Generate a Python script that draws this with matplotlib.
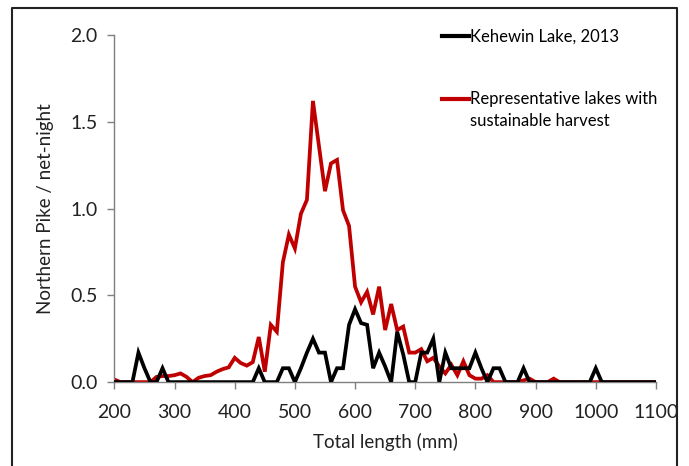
import matplotlib
matplotlib.use("Agg")
import matplotlib.pyplot as plt
from matplotlib.lines import Line2D
from matplotlib.legend_handler import HandlerLine2D
import numpy as np

plt.rcParams['font.family'] = ['Lato', 'DejaVu Sans']

# Total length bins (mm)
lengths = list(range(200, 1110, 10))

kehewin = [
    0, 0, 0, 0, 0.17, 0.08, 0, 0, 0.08, 0,          # 200-290
    0, 0, 0, 0, 0, 0, 0, 0, 0, 0,                   # 300-390
    0, 0, 0, 0, 0.08, 0, 0, 0, 0.08, 0.08,          # 400-490
    0, 0.08, 0.17, 0.25, 0.17, 0.17, 0, 0.08, 0.08, 0.33,  # 500-590
    0.42, 0.34, 0.33, 0.08, 0.17, 0.09, 0, 0.29, 0.16, 0,  # 600-690
    0, 0.17, 0.17, 0.25, 0, 0.17, 0.08, 0.08, 0.08, 0.08,  # 700-790
    0.17, 0.08, 0, 0.08, 0.08, 0, 0, 0, 0.08, 0,    # 800-890
    0, 0, 0, 0, 0, 0, 0, 0, 0, 0,                   # 900-990
    0.08, 0, 0, 0, 0, 0, 0, 0, 0, 0, 0,             # 1000-1100
]

representative = [
    0.015, 0, 0, 0, 0, 0, 0, 0.03, 0.035, 0.035,          # 200-290
    0.04, 0.05, 0.03, 0, 0.025, 0.035, 0.04, 0.06, 0.075, 0.085,  # 300-390
    0.14, 0.11, 0.095, 0.115, 0.26, 0.06, 0.33, 0.29, 0.69, 0.85, # 400-490
    0.77, 0.97, 1.05, 1.62, 1.36, 1.10, 1.26, 1.28, 0.99, 0.90,   # 500-590
    0.55, 0.46, 0.52, 0.39, 0.55, 0.30, 0.45, 0.30, 0.32, 0.17,   # 600-690
    0.17, 0.19, 0.12, 0.14, 0.09, 0.05, 0.10, 0.04, 0.12, 0.04,   # 700-790
    0.02, 0.02, 0.04, 0, 0, 0, 0, 0, 0.01, 0.02,                  # 800-890
    0, 0, 0, 0.02, 0, 0, 0, 0, 0, 0,                              # 900-990
    0, 0, 0, 0, 0, 0, 0, 0, 0, 0, 0,                              # 1000-1100
]

x_ticks = [200, 300, 400, 500, 600, 700, 800, 900, 1000, 1100]
y_ticks = [0.0, 0.5, 1.0, 1.5, 2.0]

LEG_FS = 12
LEG_LINESPACING = 1.45


class HandlerFirstLine(HandlerLine2D):
    """Line handle aligned with the first line of a two-line label."""
    def create_artists(self, legend, orig_handle, xdescent, ydescent,
                       width, height, fontsize, trans):
        artists = super().create_artists(legend, orig_handle, xdescent, ydescent,
                                         width, height, fontsize, trans)
        for a in artists:
            y = np.asarray(a.get_ydata(), dtype=float)
            a.set_ydata(y + 0.69 * fontsize)
        return artists


fig = plt.figure(figsize=(6.89, 4.66), dpi=100)
ax = fig.add_axes([0.166, 0.180, 0.786, 0.745])

red = '#C00000'
l1, = ax.plot(lengths, kehewin, color='black', lw=2.7, label='Kehewin Lake, 2013',
              zorder=3, solid_joinstyle='miter')
l2, = ax.plot(lengths, representative, color=red, lw=2.7,
              label='Representative lakes with\nsustainable harvest', zorder=2,
              solid_joinstyle='miter')

ax.set_xlim(200, 1100)
ax.set_ylim(0, 2.0)
ax.set_xticks(x_ticks)
ax.set_yticks(y_ticks)
ax.set_yticklabels([f'{v:.1f}' for v in y_ticks])

for s in ['top', 'right']:
    ax.spines[s].set_visible(False)
for s in ['left', 'bottom']:
    ax.spines[s].set_color('#7f7f7f')
    ax.spines[s].set_linewidth(1.0)
ax.tick_params(axis='both', direction='out', length=5, width=1.0,
               color='#7f7f7f', labelsize=14, labelcolor='#222222')
ax.tick_params(axis='y', pad=7)
ax.tick_params(axis='x', pad=11)

ax.set_xlabel('Total length (mm)', fontsize=13.5, color='#222222', labelpad=8)
ax.set_ylabel('Northern Pike / net-night', fontsize=13.5, color='#222222', labelpad=12)

leg = ax.legend(handles=[l1, l2], loc='upper left', bbox_to_anchor=(0.578, 1.06),
                frameon=False, fontsize=LEG_FS, handlelength=1.62,
                handletextpad=0.05, labelspacing=2.74,
                handler_map={l2: HandlerFirstLine()})
for line in leg.get_lines():
    line.set_linewidth(3)
for t in leg.get_texts():
    t.set_linespacing(LEG_LINESPACING)

# thin border around the figure (left, top, right)
fx0, fx1 = 12 / 689, 677 / 689
fy1 = 1 - 8 / 466
fig.add_artist(Line2D([fx0, fx0, fx1, fx1], [0, fy1, fy1, 0],
                      transform=fig.transFigure, color='#222222', lw=1.5))

fig.savefig('out.png', dpi=100)
